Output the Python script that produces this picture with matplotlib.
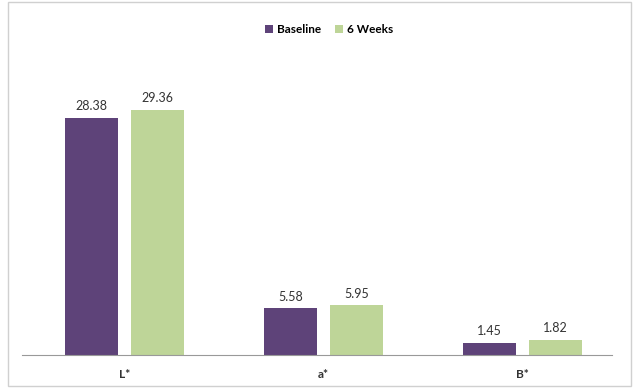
import matplotlib
matplotlib.use("Agg")
import matplotlib.pyplot as plt
import numpy as np
from matplotlib.patches import Rectangle

categories = ["L*", "a*", "B*"]
baseline = [28.38, 5.58, 1.45]
six_weeks = [29.36, 5.95, 1.82]

plt.rcParams['font.family'] = ['Lato', 'DejaVu Sans']

fig = plt.figure(figsize=(6.33, 3.88), dpi=100)
ax = fig.add_axes([0.035, 0.085, 0.932, 0.753])

x = np.arange(len(categories))
w = 0.266
off = 0.166
b1 = ax.bar(x - off, baseline, w, color="#5e4379", label="Baseline")
b2 = ax.bar(x + off, six_weeks, w, color="#bed598", label="6 Weeks")

for bars, vals in ((b1, baseline), (b2, six_weeks)):
    for rect, v in zip(bars, vals):
        ax.text(rect.get_x() + rect.get_width() / 2, v + 0.7, f"{v:.2f}",
                ha="center", va="bottom", fontsize=9, color="#333333")

ax.set_xlim(-0.513, 2.45)
ax.set_ylim(0, 35)
ax.set_xticks(x)
ax.set_xticklabels(categories, fontsize=8.5, fontweight="bold", color="#333333")
ax.tick_params(axis="x", length=0, pad=10)
ax.set_yticks([])
for s in ("top", "right", "left"):
    ax.spines[s].set_visible(False)
ax.spines["bottom"].set_color("#999999")
ax.spines["bottom"].set_linewidth(0.8)

fig.legend(loc="upper center", bbox_to_anchor=(0.52, 0.965), ncol=2, frameon=False,
           handlelength=0.7, handleheight=0.7, handletextpad=0.3,
           columnspacing=1.2, prop={"weight": "bold", "size": 8.5})

# light chart-area border
fig.patches.append(Rectangle((0.012, 0.005), 0.985, 0.99, transform=fig.transFigure,
                             fill=False, edgecolor="#d0d0d0", linewidth=1))

fig.savefig("out.png", dpi=100)
